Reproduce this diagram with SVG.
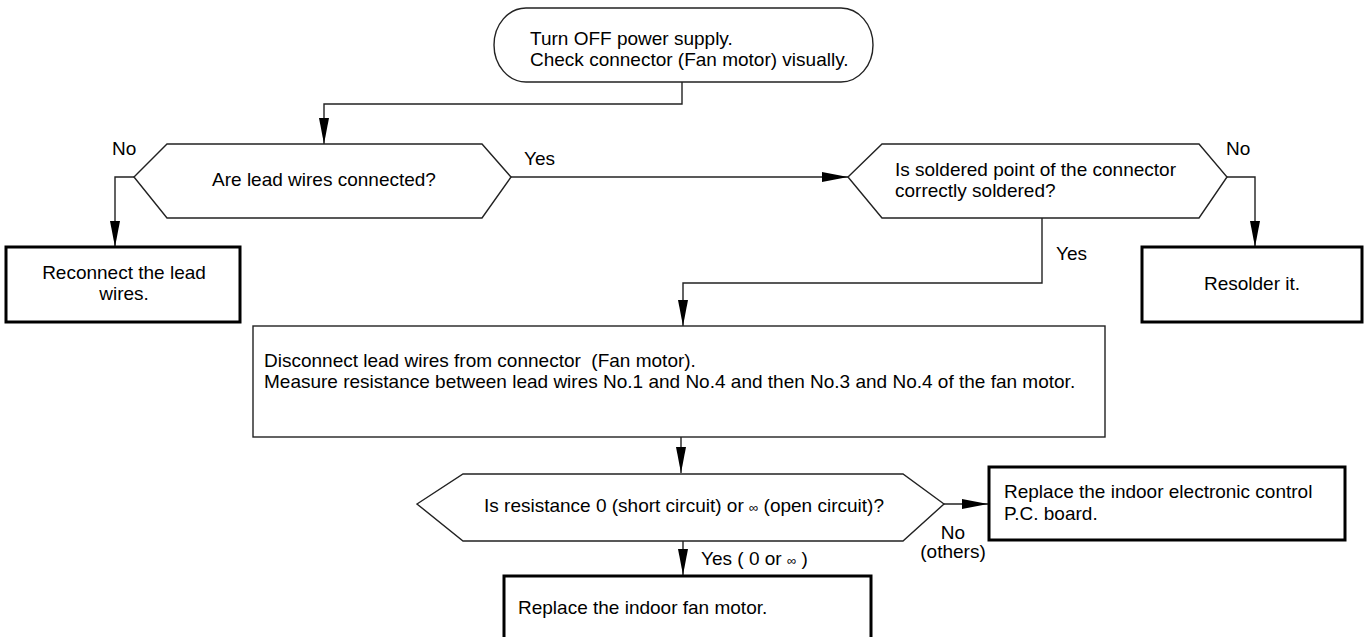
<svg xmlns="http://www.w3.org/2000/svg" width="1364" height="637" viewBox="0 0 1364 637">
<defs>
<marker id="arr" markerUnits="userSpaceOnUse" markerWidth="27" markerHeight="12" refX="26" refY="6" orient="auto">
<path d="M0,1 L26,6 L0,11 z" fill="#000"/>
</marker>
</defs>
<style>
text{font-family:"Liberation Sans",Arial,Helvetica,sans-serif;font-size:19px;fill:#000}
.thin{fill:#fff;stroke:#222;stroke-width:1.4}
.thick{fill:#fff;stroke:#000;stroke-width:3}
.c{fill:none;stroke:#222;stroke-width:1.4}
.m{text-anchor:middle}
.inf{font-size:13px}
.pre{white-space:pre}
</style>
<rect width="1364" height="637" fill="#fff"/>
<g id="connectors">
<path class="c" d="M682,82 V104 H324 V144" marker-end="url(#arr)"/>
<path class="c" d="M134,177 H115 V247" marker-end="url(#arr)"/>
<path class="c" d="M511,177 H848" marker-end="url(#arr)"/>
<path class="c" d="M1227,177 H1255 V247" marker-end="url(#arr)"/>
<path class="c" d="M1042,218 V283 H683 V326" marker-end="url(#arr)"/>
<path class="c" d="M681,437 V473" marker-end="url(#arr)"/>
<path class="c" d="M944,504 H988" marker-end="url(#arr)"/>
<path class="c" d="M683,541 V575" marker-end="url(#arr)"/>
<text x="112" y="155">No</text>
<text x="524" y="165">Yes</text>
<text x="1226" y="155">No</text>
<text x="1056" y="260">Yes</text>
<text x="953" y="539" class="m">No</text>
<text x="953" y="558" class="m">(others)</text>
<text x="701" y="565">Yes ( 0 or <tspan class="inf">∞</tspan> )</text>
</g>
<g id="start">
<rect class="thin" x="494" y="8" width="379" height="74" rx="32" ry="37"/>
<text x="530" y="45">Turn OFF power supply.</text>
<text x="530" y="66">Check connector (Fan motor) visually.</text>
</g>
<g id="d1">
<polygon class="thin" points="134,177 167,144 482,144 511,177 482,218 167,218"/>
<text x="324" y="186" class="m">Are lead wires connected?</text>
</g>
<g id="reconnect">
<rect class="thick" x="6" y="247" width="234" height="75"/>
<text x="124" y="279" class="m">Reconnect the lead</text>
<text x="124" y="300" class="m">wires.</text>
</g>
<g id="d2">
<polygon class="thin" points="848,177 882,144 1199,144 1227,177 1199,218 882,218"/>
<text x="895" y="176">Is soldered point of the connector</text>
<text x="895" y="197">correctly soldered?</text>
</g>
<g id="resolder">
<rect class="thick" x="1142" y="247" width="220" height="75"/>
<text x="1252" y="290" class="m">Resolder it.</text>
</g>
<g id="measure">
<rect class="thin" x="253" y="326" width="852" height="111"/>
<text x="264" y="367" class="pre">Disconnect lead wires from connector  (Fan motor).</text>
<text x="264" y="388">Measure resistance between lead wires No.1 and No.4 and then No.3 and No.4 of the fan motor.</text>
</g>
<g id="d3">
<polygon class="thin" points="417,504 463,474 903,474 944,504 903,541 463,541"/>
<text x="684" y="512" class="m">Is resistance 0 (short circuit) or <tspan class="inf">∞</tspan> (open circuit)?</text>
</g>
<g id="pcboard">
<rect class="thick" x="989" y="467" width="356" height="73"/>
<text x="1004" y="498">Replace the indoor electronic control</text>
<text x="1004" y="520">P.C. board.</text>
</g>
<g id="fanmotor">
<rect class="thick" x="504" y="576" width="367" height="80"/>
<text x="518" y="614">Replace the indoor fan motor.</text>
</g>
</svg>
